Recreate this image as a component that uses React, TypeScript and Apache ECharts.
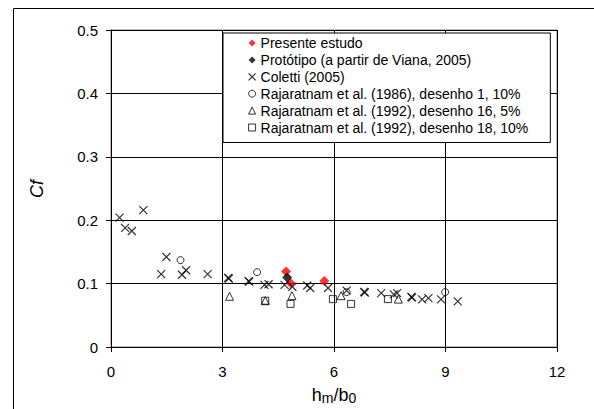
import React, { useEffect, useRef } from "react";
import * as echarts from "echarts";

const xTicks = [0, 3, 6, 9, 12];
const yTicks = [0, 0.1, 0.2, 0.3, 0.4, 0.5];

const presente: number[][] = [[4.71, 0.119], [4.83, 0.101], [5.74, 0.104]];
const prototipo: number[][] = [[4.74, 0.1095]];
const coletti: number[][] = [
  [0.23, 0.204], [0.38, 0.188], [0.56, 0.183], [0.87, 0.216], [1.35, 0.115],
  [1.49, 0.142], [1.91, 0.114], [2.02, 0.121], [2.6, 0.115], [3.15, 0.109],
  [3.17, 0.108], [3.7, 0.104], [3.72, 0.103], [4.13, 0.098], [4.24, 0.099],
  [4.67, 0.098], [4.88, 0.095], [5.28, 0.097], [5.36, 0.093], [5.84, 0.093],
  [6.34, 0.089], [6.81, 0.087], [6.83, 0.086], [7.27, 0.085], [7.61, 0.083],
  [7.7, 0.085], [8.08, 0.079], [8.1, 0.078], [8.37, 0.075], [8.54, 0.077],
  [8.88, 0.075], [9.33, 0.072],
];
const raja1986: number[][] = [[1.87, 0.137], [3.93, 0.118], [6.34, 0.0865], [8.99, 0.0865]];
const raja1992d16: number[][] = [[3.19, 0.08], [4.15, 0.073], [4.87, 0.081], [6.19, 0.081], [7.73, 0.0755]];
const raja1992d18: number[][] = [[4.15, 0.073], [4.83, 0.068], [5.97, 0.0755], [6.46, 0.068], [7.45, 0.0755]];

const seriesNames = [
  "Presente estudo",
  "Protótipo (a partir de Viana, 2005)",
  "Coletti (2005)",
  "Rajaratnam et al. (1986), desenho 1, 10%",
  "Rajaratnam et al. (1992), desenho 16, 5%",
  "Rajaratnam et al. (1992), desenho 18, 10%",
];

const CROSS = "path://M0,0L10,10M0,10L10,0";

export default function App() {
  const ref = useRef<HTMLDivElement>(null);
  useEffect(() => {
    if (!ref.current) return;
    const chart = echarts.init(ref.current, null, { renderer: "svg" });
    const hollow = { color: "transparent", borderColor: "#000", borderWidth: 1 };
    const specs = [
      { data: presente, symbol: "diamond", size: 10, style: { color: "#ff0000" } },
      { data: prototipo, symbol: "diamond", size: 10, style: { color: "#000" } },
      { data: coletti, symbol: CROSS, size: 8, style: { color: "transparent", borderColor: "#000", borderWidth: 1.2 } },
      { data: raja1986, symbol: "circle", size: 7, style: hollow },
      { data: raja1992d16, symbol: "triangle", size: 8, style: hollow },
      { data: raja1992d18, symbol: "rect", size: 7, style: hollow },
    ];
    chart.setOption({
      animation: false,
      backgroundColor: "#fff",
      textStyle: { fontFamily: "Liberation Sans, Arial, sans-serif" },
      grid: {
        left: 111, right: 37, top: 30, bottom: 62,
        containLabel: false,
        outerBoundsMode: "none",
        show: true, borderColor: "#808080", borderWidth: 1,
      },
      legend: {
        orient: "vertical",
        left: 223, top: 33,
        padding: [3, 22, 8, 25],
        itemWidth: 7, itemHeight: 7, itemGap: 2.9,
        backgroundColor: "#fff",
        borderColor: "#000", borderWidth: 1,
        textStyle: { fontSize: 14, color: "#000", fontFamily: "Liberation Sans, Arial, sans-serif" },
        data: specs.map((s, i) => ({
          name: seriesNames[i],
          icon: s.symbol,
          itemStyle: s.style,
        })),
      },
      xAxis: {
        type: "value", min: xTicks[0], max: xTicks[xTicks.length - 1], interval: 3,
        axisLine: { onZero: false, lineStyle: { color: "#000", width: 1 } },
        axisTick: { show: true, length: 5, lineStyle: { color: "#000" } },
        axisLabel: { fontSize: 15, color: "#000", margin: 17 },
        splitLine: { show: true, lineStyle: { color: "#000", width: 1 } },
        name: "h{s|m}/b{s|0}",
        nameLocation: "middle",
        nameGap: 37,
        nameTextStyle: {
          fontSize: 18, color: "#000",
          rich: { s: { fontSize: 14, color: "#000", padding: [7, 0, 0, 0], verticalAlign: "middle" } },
        },
      },
      yAxis: {
        type: "value", min: yTicks[0], max: yTicks[yTicks.length - 1], interval: 0.1,
        axisLine: { onZero: false, lineStyle: { color: "#000", width: 1 } },
        axisTick: { show: true, length: 5, lineStyle: { color: "#000" } },
        axisLabel: {
          fontSize: 15, color: "#000", margin: 13,
          formatter: (v: number) => (v === 0 ? "0" : v.toFixed(1)),
        },
        splitLine: { show: true, lineStyle: { color: "#000", width: 1 } },
      },
      graphic: [
        {
          type: "rect", silent: true, z: -10,
          shape: { x: 13.5, y: 8.5, width: 700, height: 600 },
          style: { fill: "none", stroke: "#000", lineWidth: 1 },
        },
        {
          type: "text", x: 37, y: 189, rotation: Math.PI / 2,
          style: {
            text: "Cf", fontSize: 18, fontStyle: "italic", fill: "#000",
            fontFamily: "Liberation Sans, Arial, sans-serif",
            align: "center", verticalAlign: "middle",
          },
        },
      ],
      series: specs.map((s, i) => ({
        type: "scatter",
        name: seriesNames[i],
        data: s.data,
        symbol: s.symbol,
        symbolSize: s.size,
        itemStyle: s.style,
        z: 2 + i,
      })),
    });
    return () => chart.dispose();
  }, []);
  return (
    <div
      ref={ref}
      style={{ position: "fixed", left: 0, top: 0, width: 594, height: 409 }}
    />
  );
}
